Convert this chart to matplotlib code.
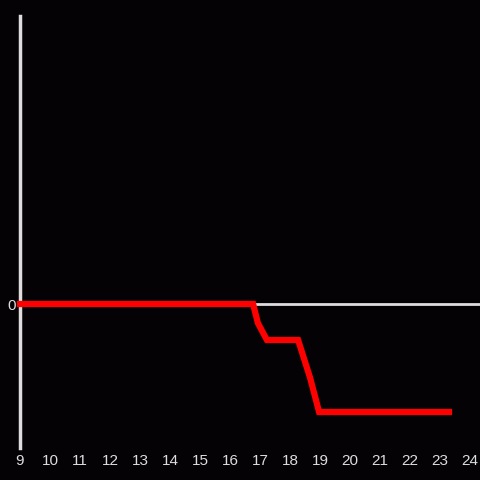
import matplotlib
matplotlib.use("Agg")
import matplotlib.pyplot as plt

plt.rcParams['font.family'] = ['Liberation Sans', 'DejaVu Sans']

# data
hours = [9, 16.77, 16.93, 17.23, 18.27, 18.67, 18.97, 23.3]
values = [0, 0, -0.53, -1, -1, -2.05, -3, -3]
xticks = list(range(9, 25))
yticks = [0]

bg = '#040205'
fg = '#dddddd'

fig = plt.figure(figsize=(4.8, 4.8), dpi=100, facecolor=bg)
ax = fig.add_axes([20 / 480, 32 / 480, 460 / 480, 432 / 480], facecolor=bg)

ax.axhline(0, color=fg, lw=2, zorder=1)
ax.plot(hours, values, color='#ff0000', lw=4.5, zorder=5,
        solid_joinstyle='miter', clip_on=False)

ax.set_xlim(9, 24 + 1 / 3)
ax.set_ylim(-4, 8)
ax.set_xticks(xticks)
ax.set_yticks(yticks)
ax.tick_params(length=0, colors=fg, labelsize=11)
ax.tick_params(axis='x', pad=4.5)
ax.tick_params(axis='y', pad=3)

for side in ['top', 'right', 'bottom']:
    ax.spines[side].set_visible(False)
ax.spines['left'].set_color(fg)
ax.spines['left'].set_linewidth(2.5)
ax.spines['left'].set_zorder(4)

fig.savefig('out.png', dpi=100, facecolor=bg)
